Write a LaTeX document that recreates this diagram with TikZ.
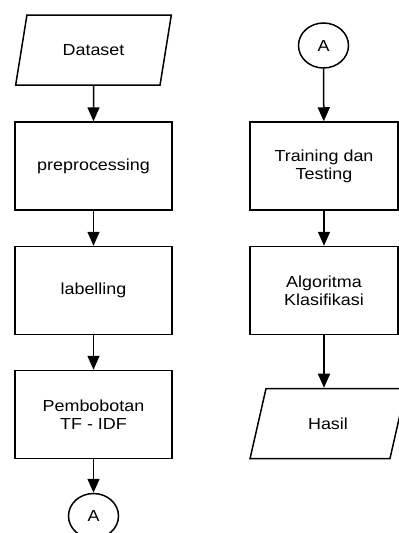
\documentclass[tikz,border=0pt]{standalone}
\usepackage{fontspec}
\setmainfont{Liberation Sans}[FakeStretch=1.12]
\usepackage{xcolor}
\usetikzlibrary{arrows.meta,shapes.geometric}

\begin{document}
\begin{tikzpicture}[x=1pt,y=-1pt,>={Triangle[width=12pt,length=14pt]}]
		\useasboundingbox (0,0) rectangle (399,533);
		\clip (0,0) rectangle (399,533);
		\tikzstyle{procbox}=[draw,line width=1.5pt,minimum height=88pt,align=center,font=\fontsize{16}{18}\selectfont]
		\tikzstyle{iobox}=[procbox,trapezium,trapezium left angle=72,trapezium right angle=108,trapezium stretches=true,minimum height=70pt]
		\tikzstyle{conn}=[draw,ellipse,line width=1.5pt,minimum width=50pt,minimum height=45pt,inner sep=0pt,font=\fontsize{16}{18}\selectfont]
		\tikzstyle{flow}=[->,line width=1.5pt]

		\node[iobox,minimum width=157pt] (data) at (93.5,50) {Dataset};
		\node[procbox,minimum width=157pt] (prep) at (93.5,166) {preprocessing};
		\node[procbox,minimum width=157pt] (label) at (93.5,290.5) {labelling};
		\node[procbox,minimum width=157pt] (tfidf) at (93.5,414.5) {Pembobotan\\TF - IDF};
		\node[conn] (conA) at (93.5,516) {A};

		\node[conn] (conB) at (323.5,45.5) {A};
		\node[procbox,minimum width=148pt] (train) at (324,166) {Training dan\\Testing};
		\node[procbox,minimum width=148pt] (algo) at (324,290.5) {Algoritma\\Klasifikasi};
		\node[iobox,minimum width=156pt] (hasil) at (328,423.5) {Hasil};

		\draw[flow] (data) -- (prep);
		\draw[flow] (prep) -- (label);
		\draw[flow] (label) -- (tfidf);
		\draw[flow] (tfidf) -- (conA);
		\draw[flow] (conB) -- (train);
		\draw[flow] (train) -- (algo);
		\draw[flow] (algo) -- (algo |- hasil.north);

	\end{tikzpicture}
\end{document}
